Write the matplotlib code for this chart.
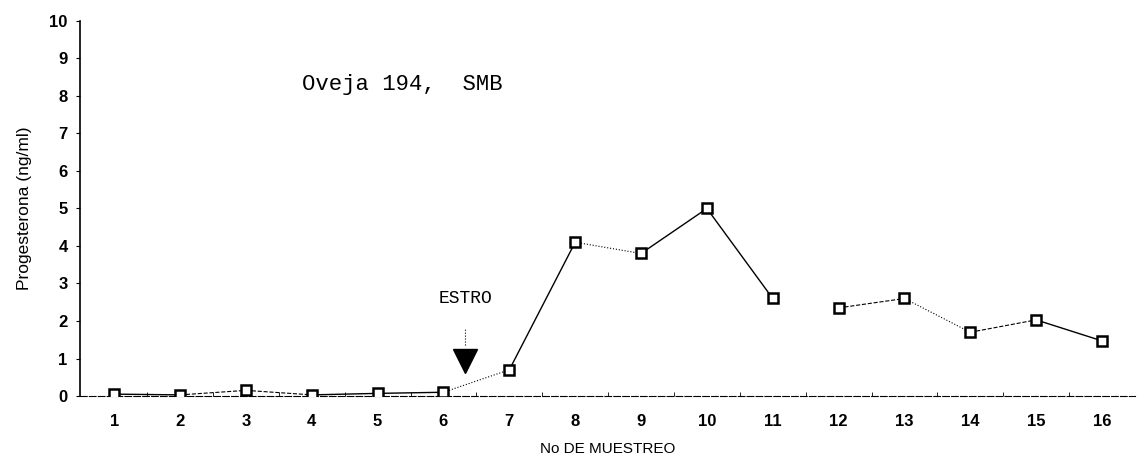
import matplotlib.pyplot as plt

# Progesterone profile for ewe 194
muestreo = list(range(1, 17))
progesterona = [0.05, 0.03, 0.15, 0.03, 0.07, 0.10, 0.70, 4.10,
                3.80, 5.00, 2.60, 2.35, 2.60, 1.70, 2.03, 1.47]
ticks_y = list(range(0, 11))

# estrus marker position
estro_x = 6.33
estro_y = 0.64

# segment styles between consecutive samples
seg_styles = ["-", "--", "--", "-", "-", ":", "-", ":",
              "-", "-", "none", "--", ":", "--", "-"]

fig = plt.figure(figsize=(11.38, 4.63), dpi=100)
ax = fig.add_axes([0.0703, 0.1447, 0.927, 0.81])

for i, ls in enumerate(seg_styles):
    if ls == "none":
        continue
    ax.plot(muestreo[i:i + 2], progesterona[i:i + 2], color="black",
            linestyle=ls, linewidth=1.0 if ls == "-" else 0.8)

ax.plot(muestreo, progesterona, linestyle="none", marker="s",
        markersize=7.5, markerfacecolor="white", markeredgecolor="black",
        markeredgewidth=1.8, zorder=3)

ax.set_xlim(0.48, 16.5)
ax.set_ylim(0, 10)
ax.set_xticks(muestreo)
ax.set_yticks(ticks_y)
ax.set_xticks([m + 0.5 for m in muestreo[:-1]], minor=True)

for side in ["top", "right"]:
    ax.spines[side].set_visible(False)
ax.spines["left"].set_linewidth(1.2)
ax.spines["bottom"].set_linewidth(0.8)
ax.spines["bottom"].set_linestyle((0, (6, 2)))

ax.tick_params(axis="y", direction="out", length=3, width=0.8, pad=6)
ax.tick_params(axis="x", which="major", length=0, pad=13)
ax.tick_params(axis="x", which="minor", direction="in", length=3, width=0.6)
for lab in ax.get_xticklabels() + ax.get_yticklabels():
    lab.set_fontfamily("Liberation Sans")
    lab.set_fontweight("bold")
    lab.set_fontsize(12)

ax.set_xlabel("No DE MUESTREO", fontfamily="Liberation Sans", fontsize=11,
              labelpad=9)
ax.set_ylabel("Progesterona (ng/ml)", fontfamily="Liberation Sans",
              fontsize=12.5, labelpad=12)

ax.text(3.85, 8.3, "Oveja 194,  SMB", fontfamily="Liberation Mono",
        fontsize=16, va="center", ha="left")

# ESTRO label with arrow
ax.text(estro_x, 2.6, "ESTRO", fontfamily="Liberation Mono", fontsize=13,
        ha="center", va="center")
ax.plot([estro_x, estro_x], [1.36, 1.81], color="black", linestyle=":",
        linewidth=0.8)
ax.plot(estro_x, estro_y + 0.3, marker="v", markersize=17, color="black",
        linestyle="none")

fig.savefig("out.png", dpi=100)
